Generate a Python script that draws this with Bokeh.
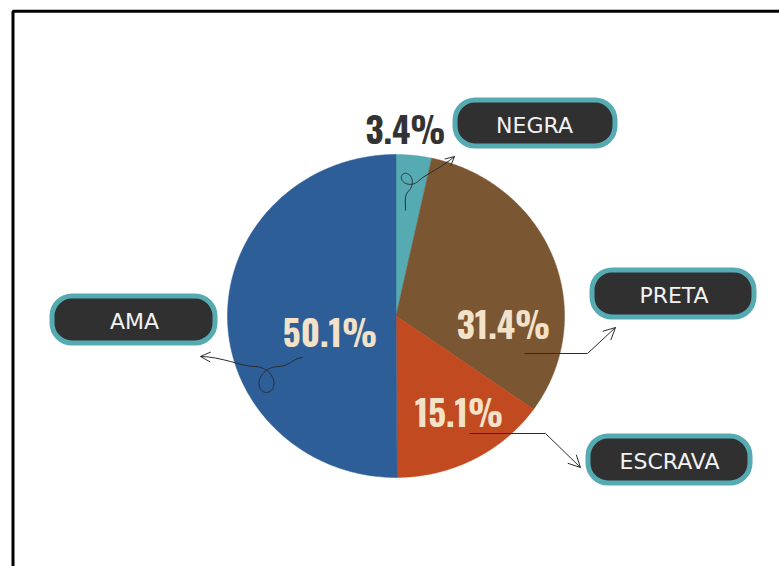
import numpy as np
from bokeh.plotting import figure
from bokeh.models import Range1d, BoxAnnotation, Arrow, OpenHead, ColumnDataSource
from bokeh.core.properties import value
from bokeh.embed import file_html
from bokeh.resources import INLINE

W, H = 779, 566

# ---- data ----
categories = ["NEGRA", "PRETA", "ESCRAVA", "AMA"]
values = [3.4, 31.4, 15.1, 50.1]
colors = ["#56aab2", "#7a5633", "#c24a20", "#2e5e98"]
pct_labels = [f"{v}%" for v in values]


def Y(py):
    return H - np.asarray(py, dtype=float)


p = figure(width=W, height=H, x_range=Range1d(0, W), y_range=Range1d(0, H),
           output_backend="svg", toolbar_location=None, min_border=0)
p.axis.visible = False
p.grid.visible = False
p.outline_line_color = None
p.background_fill_color = "white"
p.border_fill_color = "white"

# outer frame (only top & left visible within window)
p.line([12.5, 12.5, W + 20], list(Y([H + 20, 10.7, 10.7])), line_color="black", line_width=3)

# ---- pie (slightly elliptical, clockwise from top) ----
cx, cy, rx, ry = 395.5, 315.5, 168.5, 161.5
total = sum(values)
cum = np.concatenate([[0], np.cumsum(values)]) / total * 2 * np.pi
xs, ys = [], []
for i in range(len(values)):
    th = np.linspace(cum[i], cum[i + 1], 200)
    px = np.concatenate([[cx], cx + rx * np.sin(th)])
    py = np.concatenate([[cy], cy - ry * np.cos(th)])
    xs.append(list(px))
    ys.append(list(Y(py)))
p.patches(xs, ys, fill_color=colors, line_color=colors, line_width=0.5)

# ---- percent labels ----
pct_x = [405, 503, 458.5, 329.5]
pct_y = [127, 322.5, 410, 330]
pct_col = ["#333333", "#f3e1c8", "#f3e1c8", "#f3e1c8"]
src = ColumnDataSource(dict(x=pct_x, y=list(Y(pct_y)), t=pct_labels, c=pct_col))
p.text("x", "y", text="t", source=src, text_color="c", text_align="center",
       text_baseline="middle",
       text_font=value("Oswald, Roboto Condensed, Noto Sans ExtraCondensed, Noto Sans Condensed, DejaVu Sans Condensed"),
       text_font_style="bold", text_font_size="35px")

# ---- label boxes ----
boxes = {  # outer left, right, top, bottom (screen px)
    "NEGRA": (452, 617, 97, 148),
    "AMA": (49, 217, 293, 345),
    "PRETA": (589, 756, 267, 319),
    "ESCRAVA": (585, 752, 433, 485),
}
for name, (l, r, t, b) in boxes.items():
    p.add_layout(BoxAnnotation(left=l + 2.5, right=r - 2.5, top=H - (t + 2.5), bottom=H - (b - 2.5),
                               fill_color="#303030", fill_alpha=1, line_color="#56aab2",
                               line_width=5, line_alpha=1, border_radius=20, level="underlay"))

lab_x = [534, 673.5, 669, 134]
lab_y = [124.5, 294.5, 461, 320.5]
src2 = ColumnDataSource(dict(x=lab_x, y=list(Y(lab_y)), t=categories))
p.text("x", "y", text="t", source=src2, text_color="#f2f2f2", text_align="center",
       text_baseline="middle", text_font=value("DejaVu Sans"), text_font_size="22px")

# ---- connector arrows ----
lc = "#2b2b2b"


def loop_pts(extreme, eu, b, k):
    """prolate-cycloid loop; returns screen points and travel direction"""
    eu = np.asarray(eu, float) / np.hypot(*eu)
    ev = np.array([-eu[1], eu[0]])
    t = np.linspace(0, 2 * np.pi, 120)
    u = k * t + b * np.sin(t)
    v = b * np.cos(t)
    O = np.asarray(extreme, float) - k * np.pi * eu + b * ev
    pts = O[None, :] + u[:, None] * eu[None, :] + v[:, None] * ev[None, :]
    return pts, eu


# NEGRA: goes up, loops to upper-left, exits to arrow up-right
pts, eu = loop_pts((402, 174), (1, -1), 8, 2.4)
if pts[:, 0].min() > 401 + 3:
    pts, eu = loop_pts((402, 174), (1, -1), -8, 2.4)
s0, s1 = pts[0], pts[-1]
p.bezier(x0=[405], y0=list(Y([210])), x1=[s0[0]], y1=list(Y([s0[1]])),
         cx0=[405], cy0=list(Y([200])), cx1=[s0[0] - 6 * eu[0]], cy1=list(Y([s0[1] - 6 * eu[1]])),
         line_color=lc, line_width=1)
p.line(list(pts[:, 0]), list(Y(pts[:, 1])), line_color=lc, line_width=1)
p.bezier(x0=[s1[0]], y0=list(Y([s1[1]])), x1=[454], y1=list(Y([156])),
         cx0=[s1[0] + 8 * eu[0]], cy0=list(Y([s1[1] + 8 * eu[1]])), cx1=[440], cy1=list(Y([168])),
         line_color=lc, line_width=1)
p.add_layout(Arrow(end=OpenHead(size=9, line_width=1, line_color=lc), line_alpha=0,
                   x_start=446, y_start=H - 163, x_end=454, y_end=H - 156))

# AMA: from inside blue slice leftwards, loop downward, to arrow
pts, eu = loop_pts((266, 392), (-1, 0), 13, 3.9)
if pts[:, 1].max() < 392 - 3:
    pts, eu = loop_pts((266, 392), (-1, 0), -13, 3.9)
s0, s1 = pts[0], pts[-1]
p.bezier(x0=[302], y0=list(Y([357])), x1=[s0[0]], y1=list(Y([s0[1]])),
         cx0=[292], cy0=list(Y([358])), cx1=[s0[0] - 10 * eu[0]], cy1=list(Y([s0[1]])),
         line_color=lc, line_width=1)
p.line(list(pts[:, 0]), list(Y(pts[:, 1])), line_color=lc, line_width=1)
p.bezier(x0=[s1[0]], y0=list(Y([s1[1]])), x1=[200], y1=list(Y([356])),
         cx0=[s1[0] - 12], cy0=list(Y([s1[1]])), cx1=[220], cy1=list(Y([356])),
         line_color=lc, line_width=1)
p.add_layout(Arrow(end=OpenHead(size=10, line_width=1, line_color=lc), line_alpha=0,
                   x_start=210, y_start=H - 356.5, x_end=200, y_end=H - 356))

# PRETA
p.line([524, 587, 615], list(Y([353, 353, 327])), line_color=lc, line_width=1)
p.add_layout(Arrow(end=OpenHead(size=12, line_width=1, line_color=lc), line_alpha=0,
                   x_start=600, y_start=H - 341, x_end=615, y_end=H - 327))
# ESCRAVA
p.line([469, 545, 580], list(Y([433, 433, 467])), line_color=lc, line_width=1)
p.add_layout(Arrow(end=OpenHead(size=12, line_width=1, line_color=lc), line_alpha=0,
                   x_start=565, y_start=H - 452, x_end=580, y_end=H - 467))

open("out.html", "w").write(file_html(p, INLINE))
